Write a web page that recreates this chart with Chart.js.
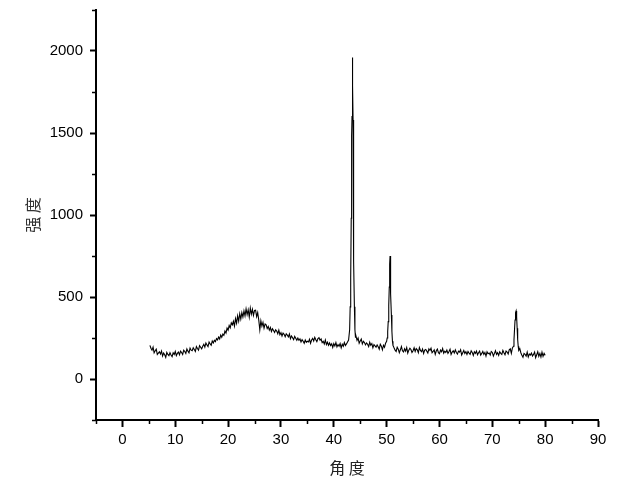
<!DOCTYPE html>
<html>
<head>
<meta charset="utf-8">
<script src="https://cdn.jsdelivr.net/npm/chart.js@4/dist/chart.umd.min.js"></script>
<style>
  body { margin: 0; background: #fff; }
  #wrap { width: 640px; height: 493px; }
</style>
</head>
<body>
<div id="wrap"><canvas id="xrd" width="640" height="493"></canvas></div>
<script>
// 2θ (度) — 扫描角度
const angle = [
  5.2, 5.4, 5.6, 5.8, 6.0, 6.2, 6.4, 6.6, 6.8, 7.0,
  7.2, 7.4, 7.6, 7.8, 8.0, 8.2, 8.4, 8.6, 8.8, 9.0,
  9.2, 9.4, 9.6, 9.8, 10.0, 10.2, 10.4, 10.6, 10.8, 11.0,
  11.2, 11.4, 11.6, 11.8, 12.0, 12.2, 12.4, 12.6, 12.8, 13.0,
  13.2, 13.4, 13.6, 13.8, 14.0, 14.2, 14.4, 14.6, 14.8, 15.0,
  15.2, 15.4, 15.6, 15.8, 16.0, 16.2, 16.4, 16.6, 16.8, 17.0,
  17.2, 17.4, 17.6, 17.8, 18.0, 18.2, 18.4, 18.6, 18.8, 19.0,
  19.2, 19.4, 19.6, 19.8, 20.0, 20.2, 20.4, 20.6, 20.8, 21.0,
  21.2, 21.4, 21.6, 21.8, 22.0, 22.2, 22.4, 22.6, 22.8, 23.0,
  23.2, 23.4, 23.6, 23.8, 24.0, 24.2, 24.4, 24.6, 24.8, 25.0,
  25.2, 25.4, 25.6, 25.8, 26.0, 26.2, 26.4, 26.6, 26.8, 27.0,
  27.2, 27.4, 27.6, 27.8, 28.0, 28.2, 28.4, 28.6, 28.8, 29.0,
  29.2, 29.4, 29.6, 29.8, 30.0, 30.2, 30.4, 30.6, 30.8, 31.0,
  31.2, 31.4, 31.6, 31.8, 32.0, 32.2, 32.4, 32.6, 32.8, 33.0,
  33.2, 33.4, 33.6, 33.8, 34.0, 34.2, 34.4, 34.6, 34.8, 35.0,
  35.2, 35.4, 35.6, 35.8, 36.0, 36.2, 36.4, 36.6, 36.8, 37.0,
  37.2, 37.4, 37.6, 37.8, 38.0, 38.2, 38.4, 38.6, 38.8, 39.0,
  39.2, 39.4, 39.6, 39.8, 40.0, 40.2, 40.4, 40.6, 40.8, 41.0,
  41.2, 41.4, 41.6, 41.8, 42.0, 42.2, 42.4, 42.6, 42.8,
  43.0, 43.1, 43.2, 43.3, 43.35, 43.4, 43.45, 43.5, 43.55, 43.6, 43.65, 43.7, 43.75, 43.8, 43.9, 44.0, 44.1,
  44.2, 44.4, 44.6, 44.8, 45.0, 45.2, 45.4, 45.6, 45.8, 46.0,
  46.2, 46.4, 46.6, 46.8, 47.0, 47.2, 47.4, 47.6, 47.8, 48.0,
  48.2, 48.4, 48.6, 48.8, 49.0, 49.2, 49.4, 49.6, 49.8,
  50.0, 50.1, 50.2, 50.3, 50.4, 50.5, 50.55, 50.6, 50.65, 50.7, 50.75, 50.8, 50.9, 51.0, 51.1, 51.2,
  51.4, 51.6, 51.8, 52.0, 52.2, 52.4, 52.6, 52.8, 53.0, 53.2,
  53.4, 53.6, 53.8, 54.0, 54.2, 54.4, 54.6, 54.8, 55.0, 55.2,
  55.4, 55.6, 55.8, 56.0, 56.2, 56.4, 56.6, 56.8, 57.0, 57.2,
  57.4, 57.6, 57.8, 58.0, 58.2, 58.4, 58.6, 58.8, 59.0, 59.2,
  59.4, 59.6, 59.8, 60.0, 60.2, 60.4, 60.6, 60.8, 61.0, 61.2,
  61.4, 61.6, 61.8, 62.0, 62.2, 62.4, 62.6, 62.8, 63.0, 63.2,
  63.4, 63.6, 63.8, 64.0, 64.2, 64.4, 64.6, 64.8, 65.0, 65.2,
  65.4, 65.6, 65.8, 66.0, 66.2, 66.4, 66.6, 66.8, 67.0, 67.2,
  67.4, 67.6, 67.8, 68.0, 68.2, 68.4, 68.6, 68.8, 69.0, 69.2,
  69.4, 69.6, 69.8, 70.0, 70.2, 70.4, 70.6, 70.8, 71.0, 71.2,
  71.4, 71.6, 71.8, 72.0, 72.2, 72.4, 72.6, 72.8, 73.0, 73.2,
  73.4, 73.6, 73.8,
  74.0, 74.1, 74.2, 74.3, 74.4, 74.5, 74.6, 74.7, 74.8, 74.9, 75.0, 75.2,
  75.4, 75.6, 75.8, 76.0, 76.2, 76.4, 76.6, 76.8, 77.0, 77.2,
  77.4, 77.6, 77.8, 78.0, 78.2, 78.4, 78.6, 78.8, 79.0, 79.2,
  79.4, 79.6, 79.8, 80.0
];

// 强度 (counts)
const intensity = [
  205, 188, 176, 194, 160, 172, 182, 150, 158, 166,
  152, 170, 140, 158, 148, 132, 162, 150, 142, 160,
  146, 136, 160, 150, 168, 142, 156, 164, 148, 170,
  162, 150, 176, 168, 156, 184, 170, 160, 188, 176,
  172, 190, 180, 168, 198, 186, 176, 204, 194, 184,
  200, 212, 194, 220, 208, 198, 226, 214, 206, 232,
  220, 236, 228, 246, 238, 256, 244, 268, 254, 274,
  266, 292, 280, 310, 298, 326, 312, 342, 330, 352,
  322, 368, 340, 385, 352, 398, 365, 405, 378, 415,
  385, 428, 392, 422, 378, 432, 395, 425, 388, 418,
  420, 380, 405, 360, 300, 355, 322, 345, 310, 335,
  330, 308, 320, 298, 314, 290, 306, 296, 284, 300,
  292, 276, 298, 270, 282, 262, 280, 272, 258, 276,
  268, 256, 274, 246, 262, 252, 240, 260, 248, 236,
  250, 236, 244, 226, 240, 230, 218, 238, 224, 230,
  226, 242, 218, 238, 248, 232, 254, 240, 228, 246,
  252, 236, 244, 222, 230, 214, 238, 210, 224, 206,
  220, 204, 214, 192, 216, 202, 222, 196, 210, 200,
  216, 190, 212, 200, 222, 204, 214, 226, 238,
  300, 440, 620, 980, 1250, 1480, 1600, 1810, 1960, 1790, 1580, 1300, 1000, 720, 440, 300, 255,
  262, 236, 250, 218, 232, 244, 214, 230, 222, 208,
  220, 212, 198, 224, 206, 216, 190, 210, 202, 194,
  208, 196, 182, 212, 200, 178, 206, 194, 218,
  230, 250, 290, 350, 450, 560, 640, 700, 750, 690, 600, 520, 390, 290, 230, 205,
  190, 176, 168, 194, 182, 160, 178, 198, 172, 165,
  184, 170, 192, 158, 176, 188, 180, 162, 172, 190,
  168, 186, 178, 160, 192, 174, 166, 182, 156, 176,
  180, 170, 158, 184, 174, 188, 160, 168, 178, 150,
  172, 182, 160, 154, 176, 166, 186, 158, 170, 162,
  176, 156, 168, 182, 150, 164, 172, 158, 178, 162,
  152, 170, 164, 178, 146, 160, 174, 156, 166, 150,
  168, 158, 150, 172, 162, 144, 166, 156, 170, 148,
  160, 170, 146, 156, 168, 150, 162, 140, 166, 154,
  158, 146, 168, 162, 140, 156, 172, 150, 160, 144,
  166, 156, 150, 174, 160, 148, 170, 164, 152, 178,
  184, 156, 190,
  200, 240, 300, 360, 405, 415, 380, 310, 240, 200, 175, 185,
  160, 144, 132, 156, 150, 140, 164, 134, 152, 146,
  158, 140, 150, 164, 130, 148, 166, 138, 156, 134,
  164, 138, 156, 144
];

// tick labels and minor ticks
const xTicks = [0, 10, 20, 30, 40, 50, 60, 70, 80, 90];
const xMinor = [-5, 5, 15, 25, 35, 45, 55, 65, 75, 85];
const yTicks = [0, 500, 1000, 1500, 2000];
const yMinor = [-250, 250, 750, 1250, 1750, 2250];

var points = [];
for (let i = 0; i < angle.length; i++) {
  points.push({ x: angle[i], y: intensity[i] });
}

// small outward ticks between the labelled ones
const minorTicks = {
  id: 'minorTicks',
  afterDraw(chart) {
    var ctx = chart.ctx;
    var a = chart.chartArea;
    ctx.save();
    ctx.strokeStyle = '#000';
    ctx.lineWidth = 1.5;
    ctx.beginPath();
    xMinor.forEach(function (v) {
      var px = Math.round(chart.scales.x.getPixelForValue(v)) + 0.5;
      ctx.moveTo(px, a.bottom);
      ctx.lineTo(px, a.bottom + 4);
    });
    yMinor.forEach(function (v) {
      var py = Math.round(chart.scales.y.getPixelForValue(v)) + 0.5;
      ctx.moveTo(a.left, py);
      ctx.lineTo(a.left - 4, py);
    });
    ctx.stroke();
    ctx.restore();
  }
};

var tickFont = { family: '"Liberation Sans", Arial, sans-serif', size: 15 };
var titleFont = { family: '"Noto Sans CJK SC", sans-serif', size: 16 };

new Chart(document.getElementById('xrd'), {
  type: 'line',
  data: {
    datasets: [{
      data: points,
      borderColor: '#000',
      borderWidth: 1.1,
      pointRadius: 0,
      tension: 0,
      fill: false
    }]
  },
  options: {
    responsive: false,
    animation: false,
    layout: { padding: { top: 10, right: 42, left: 0, bottom: 0 } },
    plugins: { legend: { display: false }, tooltip: { enabled: false } },
    scales: {
      x: {
        type: 'linear',
        min: -5,
        max: 90,
        afterBuildTicks: function (s) { s.ticks = xTicks.map(v => ({ value: v })); },
        afterFit: function (s) { s.height = 73; s.paddingLeft = 0; s.paddingRight = 0; },
        ticks: { color: '#000', font: tickFont, padding: 4, maxRotation: 0, callback: v => String(v) },
        grid: { drawOnChartArea: false, tickLength: 7, tickColor: '#000', tickWidth: 2 },
        border: { color: '#000', width: 2 },
        title: { display: true, text: '角 度', color: '#222', font: titleFont, padding: { top: 0, bottom: 15 } }
      },
      y: {
        min: -250,
        max: 2250,
        afterBuildTicks: function (s) { s.ticks = yTicks.map(v => ({ value: v })); },
        afterFit: function (s) { s.width = 96; s.paddingTop = 0; s.paddingBottom = 0; },
        ticks: { color: '#000', font: tickFont, padding: 7, callback: v => String(v) },
        grid: { drawOnChartArea: false, tickLength: 6, tickColor: '#000', tickWidth: 2 },
        border: { color: '#000', width: 2 },
        title: { display: true, text: '强 度', color: '#333', font: titleFont, padding: { top: 23, bottom: 0 } }
      }
    }
  },
  plugins: [minorTicks]
});
</script>
</body>
</html>
